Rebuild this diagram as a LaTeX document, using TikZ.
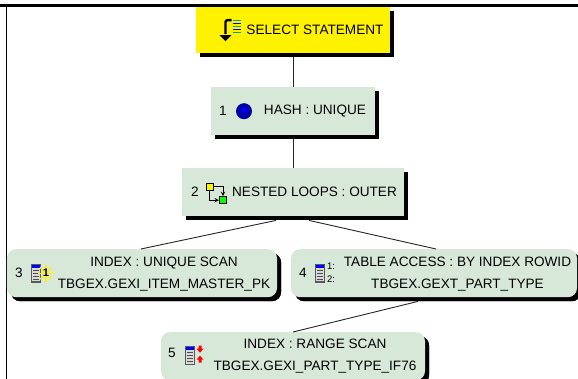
\documentclass[tikz,border=0pt]{standalone}
\usepackage{fontspec}
\setmainfont{Liberation Sans}
\usetikzlibrary{matrix,shadows}
\definecolor{planfill}{RGB}{216,232,216}
\definecolor{hashblue}{RGB}{0,0,160}
\definecolor{leafgreen}{RGB}{0,170,90}
\tikzset{
	planshadow/.style={drop shadow={shadow xshift=4pt,shadow yshift=-4pt,fill=black,opacity=1}},
	planbox/.style={fill=planfill,minimum height=48pt,inner sep=0pt,planshadow},
	indexbox/.style={planbox,rounded corners=9pt},
	planlink/.style={draw=black!85,line width=0.9pt},
	plantext/.style={font=\fontsize{13.6}{22.5}\selectfont,align=center,inner sep=0pt},
	indexicon/.pic={
		\fill[black!65] (-5,-9.5) rectangle (5,9.5);
		\fill[black!15] (-3.8,-8.3) rectangle (3.8,8.3);
		\fill[blue] (-3.8,5.5) rectangle (3.8,8.5);
		\foreach \y in {-6,-3,0,3} \draw[line width=1pt,black!70] (-2.6,\y) -- (2.6,\y);
	},
	redarrow/.pic={
		\fill[red] (-1.5,3.5) -- (1.5,3.5) -- (1.5,0.5) -- (3.5,0.5) -- (0,-3.5) -- (-3.5,0.5) -- (-1.5,0.5) -- cycle;
	}
}
\begin{document}
\begin{tikzpicture}[x=1pt,y=1pt]
	\useasboundingbox (0,0) rectangle (578,-379);
	\fill[white] (0,0) rectangle (578,-379);
	\draw[line width=3pt] (0,-5.5) -- (578,-5.5);
	\draw[line width=1.2pt] (6.5,-5) -- (6.5,-379);
	\matrix (m) [matrix of nodes,anchor=north,inner sep=0pt,nodes={planbox}] at (292,-7)
	{
		&[-116pt] |[minimum width=193pt,minimum height=46pt,fill=yellow]| {} &[-134pt] \\[34pt]
		&[-116pt] |[minimum width=163pt]| {} &[-134pt] \\[33pt]
		&[-116pt] |[minimum width=222pt]| {} &[-134pt] \\[33pt]
		|[indexbox,minimum width=270pt]| {} &[-116pt] &[-134pt] |[indexbox,minimum width=286pt]| {} \\[35pt]
		&[-116pt] |[indexbox,minimum width=264pt]| {} &[-134pt] \\
	};
	\path[planlink]
	([yshift=-4pt]m-1-2.south) edge (m-2-2.north)
	([yshift=-4pt]m-2-2.south) edge (m-3-2.north)
	([xshift=-17pt,yshift=-4pt]m-3-2.south) edge ([xshift=-1pt]m-4-1.north)
	([xshift=16pt,yshift=-4pt]m-3-2.south) edge ([xshift=2pt]m-4-3.north)
	([xshift=-16pt,yshift=-4pt]m-4-3.south) edge (m-5-2.north);
	% texts
	\node[plantext] (t0) at ([xshift=22pt]m-1-2.center) {SELECT STATEMENT};
	\node[plantext] (t1) at ([xshift=22pt]m-2-2.center) {HASH : UNIQUE};
	\node[plantext] (t2) at ([xshift=21.5pt]m-3-2.center) {NESTED LOOPS : OUTER};
	\node[plantext] (t3) at ([xshift=22pt,yshift=-1pt]m-4-1.center) {INDEX : UNIQUE SCAN\\TBGEX.GEXI\_ITEM\_MASTER\_PK};
	\node[plantext] (t4) at ([xshift=23.5pt,yshift=-1pt]m-4-3.center) {TABLE ACCESS : BY INDEX ROWID\\TBGEX.GEXT\_PART\_TYPE};
	\node[plantext] (t5) at ([xshift=22pt]m-5-2.center) {INDEX : RANGE SCAN\\TBGEX.GEXI\_PART\_TYPE\_IF76};
	% step numbers
	\node[plantext] (n1) at ([xshift=-70pt]m-2-2.center) {1};
	\node[plantext] (n2) at ([xshift=-98pt]m-3-2.center) {2};
	\node[plantext] (n3) at ([xshift=-123pt]m-4-1.center) {3};
	\node[plantext] (n4) at ([xshift=-131pt]m-4-3.center) {4};
	\node[plantext] (n5) at ([xshift=-121pt,yshift=3pt]m-5-2.center) {5};
	% select icon
	\begin{scope}[shift={([xshift=-67.5pt]m-1-2.center)}]
		\draw[line width=2.4pt,rounded corners=2pt] (6,10) -- (0,10) -- (0,-4);
		\fill (-6,-5) -- (6,-5) -- (0,-11) -- cycle;
		\foreach \y/\c in {10/leafgreen,7/blue,4/leafgreen,1/blue,-2/leafgreen}
			\draw[\c,line width=1.1pt] (7,\y) -- (15,\y);
	\end{scope}
	% hash icon
	\fill[hashblue] ([xshift=-49pt]m-2-2.center) circle (8pt);
	\fill[blue] ([xshift=-49pt,yshift=1pt]m-2-2.center) circle (3pt);
	% loops icon
	\begin{scope}[shift={([xshift=-77pt,yshift=-1pt]m-3-2.center)}]
		\draw[black,line width=1pt,-stealth] (-3,7) -- (7,7) -- (7,-3);
		\draw[black,line width=1pt,-stealth] (-7,3) -- (-7,-7) -- (3,-7);
		\filldraw[fill=yellow,draw=black] (-10,3) rectangle (-3,10);
		\filldraw[fill=green,draw=black] (3,-10) rectangle (10,-3);
	\end{scope}
	% index icons
	\pic at ([xshift=-106pt]m-4-1.center) {indexicon};
	\foreach \a in {0,45,...,315}
		\draw[yellow,line width=1.2pt] ([xshift=-96pt]m-4-1.center) -- ++(\a:8.5);
	\node[font=\fontsize{11}{11}\selectfont\bfseries,inner sep=0pt] (s3) at ([xshift=-96pt]m-4-1.center) {1};
	\pic at ([xshift=-114pt]m-4-3.center) {indexicon};
	\node[font=\fontsize{9.5}{9.5}\selectfont,inner sep=0pt] (a4) at ([xshift=-103pt,yshift=7pt]m-4-3.center) {1:};
	\node[font=\fontsize{9.5}{9.5}\selectfont,inner sep=0pt] (b4) at ([xshift=-103pt,yshift=-6pt]m-4-3.center) {2:};
	\pic at ([xshift=-103pt,yshift=1pt]m-5-2.center) {indexicon};
	\pic at ([xshift=-93pt,yshift=7pt]m-5-2.center) {redarrow};
	\pic[yscale=-1] at ([xshift=-93pt,yshift=-3pt]m-5-2.center) {redarrow};
\end{tikzpicture}
\end{document}
